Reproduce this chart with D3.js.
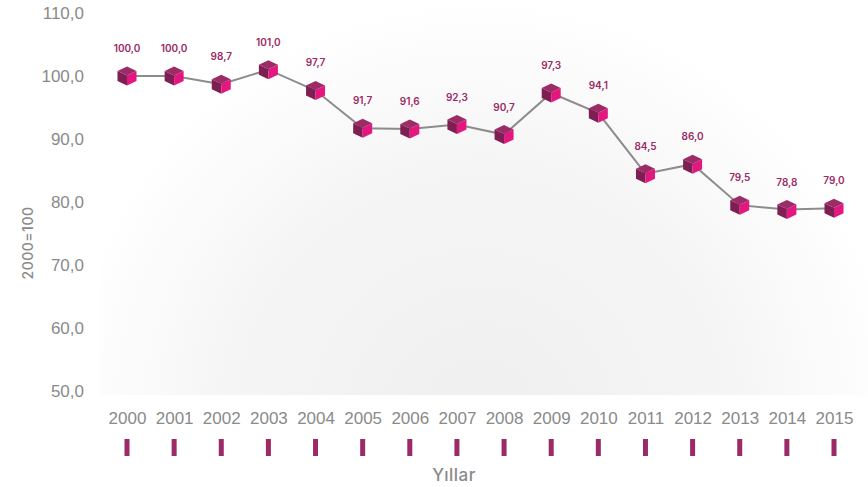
<!DOCTYPE html>
<html>
<head>
<meta charset="utf-8">
<script src="https://cdn.jsdelivr.net/npm/d3@7"></script>
<style>
  html, body { margin: 0; padding: 0; background: #fff; }
  svg { display: block; font-family: Inter, "Open Sans", sans-serif; }
</style>
</head>
<body>
<svg id="chart" width="868" height="487"></svg>
<script>
// Index values, 2000 = 100
const years = ["2000","2001","2002","2003","2004","2005","2006","2007","2008","2009","2010","2011","2012","2013","2014","2015"];
const values = [100.0, 100.0, 98.7, 101.0, 97.7, 91.7, 91.6, 92.3, 90.7, 97.3, 94.1, 84.5, 86.0, 79.5, 78.8, 79.0];
const yTicks = [50, 60, 70, 80, 90, 100, 110];

const svg = d3.select("#chart");
const fmt = v => d3.format(".1f")(v).replace(".", ",");

const x = d3.scalePoint().domain(years).range([127, 834]);
const y = d3.scaleLinear().domain([50, 110]).range([391, 13]);

// soft radial shading behind the plot
const defs = svg.append("defs");
const grad = defs.append("radialGradient")
  .attr("id", "bgGrad")
  .attr("gradientUnits", "userSpaceOnUse")
  .attr("cx", 480).attr("cy", 420).attr("r", 420);
grad.append("stop").attr("offset", "0%").attr("stop-color", "#efefef");
grad.append("stop").attr("offset", "60%").attr("stop-color", "#f5f5f5");
grad.append("stop").attr("offset", "100%").attr("stop-color", "#ffffff");
svg.append("rect")
  .attr("x", 100).attr("y", 0).attr("width", 768).attr("height", 395)
  .attr("fill", "url(#bgGrad)");

// y axis labels
const yAxis = d3.axisLeft(y).tickValues(yTicks).tickFormat(fmt).tickSize(0).tickPadding(0);
const gy = svg.append("g").attr("transform", "translate(84,0)").call(yAxis);
gy.select(".domain").remove();
gy.selectAll("text")
  .attr("fill", "#8a8a8a")
  .style("font-size", "17px")
  .style("font-weight", "500");

// x axis labels and purple tick bars
const xAxis = d3.axisBottom(x).tickSize(0).tickPadding(0);
const gx = svg.append("g").attr("transform", "translate(0,412)").call(xAxis);
gx.select(".domain").remove();
gx.selectAll("text")
  .attr("fill", "#8a8a8a")
  .style("font-size", "17px")
  .style("font-weight", "500");

svg.append("g").selectAll("rect")
  .data(years)
  .join("rect")
  .attr("x", d => x(d) - 2.5)
  .attr("y", 439)
  .attr("width", 5)
  .attr("height", 17)
  .attr("fill", "#9b2a66");

// axis titles
svg.append("text")
  .attr("transform", "translate(33,243) rotate(-90)")
  .attr("text-anchor", "middle")
  .attr("fill", "#8a8a8a")
  .style("font-size", "14px")
  .style("font-weight", "500")
  .style("letter-spacing", "0.5px")
  .text("2000=100");

svg.append("text")
  .attr("x", 454).attr("y", 481)
  .attr("text-anchor", "middle")
  .attr("fill", "#8a8a8a")
  .style("font-size", "17px")
  .style("font-weight", "500")
  .style("letter-spacing", "0.5px")
  .text("Yıllar");

// connecting line
const data = years.map((yr, i) => ({ year: yr, value: values[i] }));
svg.append("path")
  .datum(data)
  .attr("fill", "none")
  .attr("stroke", "#8c8c8c")
  .attr("stroke-width", 2)
  .attr("d", d3.line().x(d => x(d.year)).y(d => y(d.value)));

// cube markers
const s = 9.5;  // half width
const h = 4.5;  // top face half height
const cubes = svg.append("g").selectAll("g")
  .data(data)
  .join("g")
  .attr("transform", d => `translate(${x(d.year)},${y(d.value)})`);

cubes.append("path") // left face
  .attr("d", `M${-s},${-s + h} L0,${-s + 2 * h} L0,${s} L${-s},${s - h} Z`)
  .attr("fill", "#7d1f52");
cubes.append("path") // right face
  .attr("d", `M${s},${-s + h} L0,${-s + 2 * h} L0,${s} L${s},${s - h} Z`)
  .attr("fill", "#e3177f");
cubes.append("path") // top face
  .attr("d", `M0,${-s} L${s},${-s + h} L0,${-s + 2 * h} L${-s},${-s + h} Z`)
  .attr("fill", "#9c2c67");

// value labels
svg.append("g").selectAll("text")
  .data(data)
  .join("text")
  .attr("x", d => x(d.year))
  .attr("y", d => y(d.value) - 24)
  .attr("text-anchor", "middle")
  .attr("fill", "#9b2a66")
  .style("font-size", "10px")
  .style("font-weight", "600")
  .text(d => fmt(d.value));
</script>
</body>
</html>
